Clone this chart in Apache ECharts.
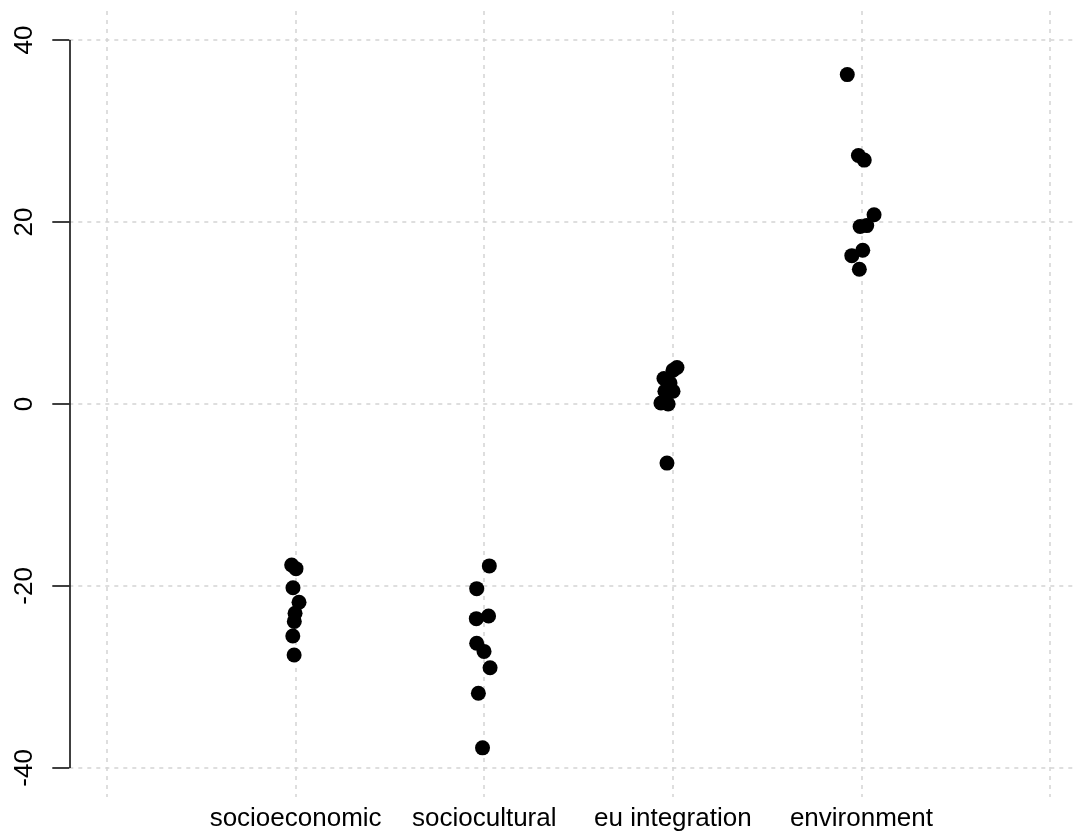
<!DOCTYPE html>
<html>
<head>
<meta charset="utf-8">
<script src="https://cdn.jsdelivr.net/npm/echarts@6/dist/echarts.min.js"></script>
<style>
html,body{margin:0;padding:0;background:#fff;}
#chart{width:1077px;height:832px;}
</style>
</head>
<body>
<div id="chart"></div>
<script>
var categories = ['socioeconomic', 'sociocultural', 'eu integration', 'environment'];
var socioeconomicValues = [-17.7, -18.1, -20.2, -21.8, -23.0, -23.9, -25.5, -27.6];
var socioeconomicJitter = [-0.021, 0.002, -0.014, 0.018, -0.003, -0.007, -0.015, -0.008];
var socioculturalValues = [-17.8, -20.3, -23.6, -23.3, -26.3, -27.2, -29.0, -31.8, -37.8];
var socioculturalJitter = [0.027, -0.040, -0.042, 0.023, -0.040, -0.001, 0.031, -0.031, -0.009];
var euIntegrationValues = [4.0, 3.7, 2.8, 2.3, 1.4, 1.4, 0.1, 0.0, -6.5];
var euIntegrationJitter = [0.022, 0.001, -0.047, -0.015, -0.042, 0.001, -0.063, -0.025, -0.031];
var environmentValues = [36.2, 27.3, 26.8, 20.8, 19.5, 19.6, 16.9, 16.3, 14.8];
var environmentJitter = [-0.075, -0.016, 0.015, 0.067, -0.007, 0.028, 0.007, -0.051, -0.011];
var yTicks = [-40, -20, 0, 20, 40];
var xGridValues = [0, 1, 2, 3, 4, 5];
var xLabelValues = [1, 2, 3, 4];

var groups = [
  [socioeconomicValues, socioeconomicJitter],
  [socioculturalValues, socioculturalJitter],
  [euIntegrationValues, euIntegrationJitter],
  [environmentValues, environmentJitter]
];
var points = [];
groups.forEach(function (g, i) {
  g[0].forEach(function (v, j) {
    points.push([i + 1 + g[1][j], v]);
  });
});

var FONT = '"Liberation Sans", Arial, Helvetica, sans-serif';
var chart = echarts.init(document.getElementById('chart'), null, {renderer: 'canvas'});
chart.setOption({
  animation: false,
  backgroundColor: '#ffffff',
  grid: {left: 69.3, right: 0, top: 10.9, bottom: 34.9, containLabel: false},
  xAxis: {
    type: 'value',
    min: -0.2,
    max: 5.143,
    axisLine: {show: false, onZero: false},
    axisTick: {show: false, customValues: xGridValues},
    splitLine: {show: true, lineStyle: {color: '#d3d3d3', width: 1.5, type: [4, 5]}},
    axisLabel: {
      show: true,
      customValues: xLabelValues,
      formatter: function (v) { return categories[Math.round(v) - 1] || ''; },
      fontSize: 26, color: '#000', fontFamily: FONT, margin: 9
    }
  },
  yAxis: {
    type: 'value',
    min: -43.2,
    max: 43.2,
    axisLine: {show: false, onZero: false},
    axisTick: {show: true, customValues: yTicks, length: 17, lineStyle: {color: '#000', width: 1.5}},
    splitLine: {show: true, lineStyle: {color: '#d3d3d3', width: 1.5, type: [4, 5]}},
    axisLabel: {
      show: true,
      customValues: yTicks,
      rotate: 90,
      fontSize: 26, color: '#000', fontFamily: FONT, margin: 31
    }
  },
  series: [{
    type: 'scatter',
    data: points,
    symbol: 'circle',
    symbolSize: 15,
    clip: false,
    itemStyle: {color: '#000', opacity: 1},
    markLine: {
      silent: true,
      symbol: ['none', 'none'],
      label: {show: false},
      lineStyle: {color: '#000', width: 1.5, type: 'solid'},
      data: [[{coord: [-0.2, yTicks[0]]}, {coord: [-0.2, yTicks[yTicks.length - 1]]}]]
    }
  }]
});
</script>
</body>
</html>
